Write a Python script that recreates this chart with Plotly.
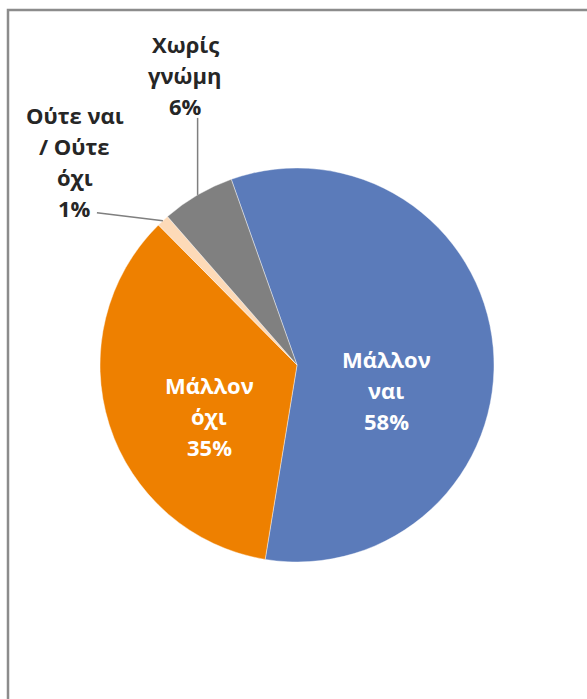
import math
import plotly.graph_objects as go

# ---- data ----
labels = ["Μάλλον ναι", "Μάλλον όχι", "Ούτε ναι / Ούτε όχι", "Χωρίς γνώμη"]
label_lines = [["Μάλλον", "ναι"], ["Μάλλον", "όχι"], ["Ούτε ναι", "/ Ούτε", "όχι"], ["Χωρίς", "γνώμη"]]
values = [58, 35, 1, 6]
colors = ["#5B7BBA", "#EE8000", "#FDDAB8", "#808080"]
inside = [True, True, False, False]

# ---- layout geometry (pixels) ----
W, H = 587, 699
cx, cy, R = 297, 365, 197
rotation = -19.5  # start angle of first slice, degrees clockwise from 12 o'clock

FONT = "Open Sans"
FSIZE = 22
LINE_H = 31
TXT = "#262626"

# label placement relative to pie center (inside) or to slice edge (outside)
inside_offsets = {0: (89, 25), 1: (-88, 51)}
outside_offsets = {
    2: dict(line=(-66, -8), text=(-88, -59)),
    3: dict(line=(0, -77), text=(-12.5, -120)),
}


def px(x):
    return x / W


def py(y):
    return 1 - y / H


fig = go.Figure(go.Pie(
    labels=labels,
    values=values,
    textinfo="none",
    marker=dict(colors=colors, line=dict(color="rgba(255,255,255,0.6)", width=0.7)),
    sort=False,
    direction="clockwise",
    rotation=rotation,
    domain=dict(x=[px(cx - R), px(cx + R)], y=[py(cy + R), py(cy - R)]),
    showlegend=False,
    hoverinfo="label+percent",
))

shapes = []
annotations = []


def add_text_block(x, y, lines, color):
    n = len(lines)
    for k, line in enumerate(lines):
        yy = y + (k - (n - 1) / 2) * LINE_H
        annotations.append(dict(
            xref="paper", yref="paper", x=px(x), y=py(yy),
            xanchor="center", yanchor="middle", showarrow=False,
            text=line,
            font=dict(family=FONT, size=FSIZE, color=color, weight="bold"),
        ))


total = sum(values)
cum = 0
for i, v in enumerate(values):
    mid = rotation + (cum + v / 2) / total * 360
    cum += v
    pct = f"{round(v / total * 100)}%"
    lines = label_lines[i] + [pct]
    if inside[i]:
        ox, oy = inside_offsets[i]
        add_text_block(cx + ox, cy + oy, lines, "white")
        continue
    a = math.radians(mid)
    tx = cx + R * math.sin(a)
    ty = cy - R * math.cos(a)
    o = outside_offsets[i]
    lx, ly = tx + o["line"][0], ty + o["line"][1]
    shapes.append(dict(type="line", xref="paper", yref="paper",
                       x0=px(tx), y0=py(ty), x1=px(lx), y1=py(ly),
                       line=dict(color="#7F7F7F", width=1.5)))
    add_text_block(tx + o["text"][0], ty + o["text"][1], lines, TXT)

# chart frame
shapes.append(dict(type="rect", xref="paper", yref="paper",
                   x0=px(8), y0=py(H + 20), x1=px(W + 20), y1=py(10),
                   line=dict(color="#8C8C8C", width=2.5), fillcolor="rgba(0,0,0,0)"))

fig.update_layout(
    width=W, height=H,
    margin=dict(l=0, r=0, t=0, b=0),
    paper_bgcolor="white",
    plot_bgcolor="white",
    shapes=shapes,
    annotations=annotations,
    font=dict(family=FONT),
)

fig.write_html(
    "out.html",
    config={"displayModeBar": False},
    post_script="document.body.style.margin='0';document.body.style.overflow='hidden';",
)
